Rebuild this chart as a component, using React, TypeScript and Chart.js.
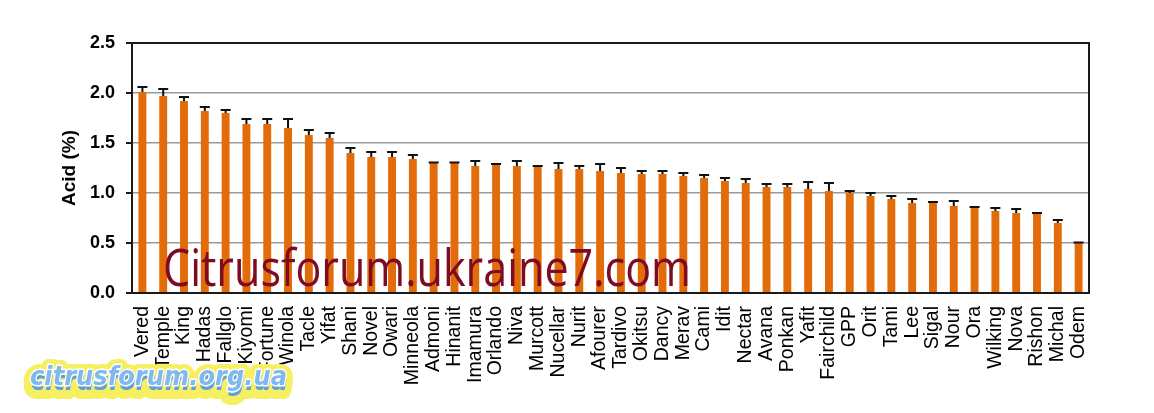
import React, { useEffect, useRef } from "react";
import { Chart, registerables } from "chart.js";

Chart.register(...registerables);

const cultivars = [
  "Vered", "Temple", "King", "Hadas", "Fallglo", "Kiyomi", "Fortune", "Winola", "Tacle", "Yifat",
  "Shani", "Novel", "Owari", "Minneola", "Admoni", "Hinanit", "Imamura", "Orlando", "Niva", "Murcott",
  "Nucellar", "Nurit", "Afourer", "Tardivo", "Okitsu", "Dancy", "Merav", "Cami", "Idit", "Nectar",
  "Avana", "Ponkan", "Yafit", "Fairchild", "GPP", "Orit", "Tami", "Lee", "Sigal", "Nour",
  "Ora", "Wilking", "Nova", "Rishon", "Michal", "Odem",
];

const acidValues = [
  2.01, 1.97, 1.92, 1.82, 1.8, 1.69, 1.69, 1.65, 1.58, 1.55,
  1.4, 1.36, 1.36, 1.34, 1.3, 1.3, 1.27, 1.28, 1.27, 1.26,
  1.24, 1.24, 1.22, 1.2, 1.19, 1.19, 1.17, 1.15, 1.12, 1.1,
  1.06, 1.06, 1.04, 1.02, 1.0, 0.97, 0.94, 0.9, 0.9, 0.87,
  0.85, 0.82, 0.8, 0.79, 0.7, 0.5,
];

const acidErrors = [
  0.05, 0.07, 0.04, 0.04, 0.03, 0.05, 0.05, 0.09, 0.05, 0.05,
  0.05, 0.05, 0.05, 0.04, 0.005, 0.005, 0.05, 0.01, 0.05, 0.01,
  0.06, 0.03, 0.07, 0.05, 0.03, 0.03, 0.03, 0.03, 0.03, 0.04,
  0.03, 0.03, 0.07, 0.08, 0.02, 0.03, 0.03, 0.04, 0.01, 0.05,
  0.01, 0.03, 0.04, 0.01, 0.03, 0.005,
];

const yTicks = [0, 0.5, 1.0, 1.5, 2.0, 2.5];
const yTitle = "Acid (%)";
const watermarkMain = "Citrusforum.ukraine7.com";
const watermarkBadge = "citrusforum.org.ua";

const FONT = "'Liberation Sans', Arial, sans-serif";

const errorBarPlugin = {
  id: "errorBars",
  afterDatasetsDraw(chart: any) {
    const ctx = chart.ctx;
    const meta = chart.getDatasetMeta(0);
    const y = chart.scales.y;
    ctx.save();
    ctx.strokeStyle = "#111";
    ctx.lineWidth = 2;
    meta.data.forEach((bar: any, i: number) => {
      const top = y.getPixelForValue(acidValues[i] + acidErrors[i]);
      ctx.beginPath();
      ctx.moveTo(bar.x, bar.y);
      ctx.lineTo(bar.x, top);
      ctx.moveTo(bar.x - 5, top);
      ctx.lineTo(bar.x + 5, top);
      ctx.stroke();
    });
    ctx.restore();
  },
};

const framePlugin = {
  id: "frame",
  afterDraw(chart: any) {
    const ctx = chart.ctx;
    const a = chart.chartArea;
    ctx.save();
    ctx.strokeStyle = "#1a1a1a";
    ctx.lineWidth = 2;
    ctx.strokeRect(a.left, a.top, a.right - a.left, a.bottom - a.top);
    const y = chart.scales.y;
    ctx.beginPath();
    yTicks.forEach((v) => {
      const py = y.getPixelForValue(v);
      ctx.moveTo(a.left - 6, py);
      ctx.lineTo(a.left, py);
    });
    ctx.stroke();

    // watermark 1
    ctx.font = `52px 'Open Sans', 'Noto Sans', sans-serif`;
    const w1 = ctx.measureText(watermarkMain).width;
    const targetW1 = 528;
    ctx.translate(163, 286);
    ctx.scale(targetW1 / w1, 1);
    ctx.fillStyle = "#7d0b22";
    ctx.textBaseline = "alphabetic";
    ctx.fillText(watermarkMain, 0, 0);
    ctx.restore();

    // watermark 2 (badge)
    ctx.save();
    ctx.font = `italic bold 27px 'DejaVu Sans', sans-serif`;
    const w2 = ctx.measureText(watermarkBadge).width;
    const targetW2 = 257;
    ctx.translate(30, 385);
    ctx.scale(targetW2 / w2, 1);
    ctx.lineJoin = "round";
    ctx.strokeStyle = "#f6ef62";
    ctx.lineWidth = 16;
    ctx.strokeText(watermarkBadge, 0, 2);
    ctx.strokeText(watermarkBadge, 0, 6);
    ctx.fillStyle = "#5f9fdc";
    ctx.fillText(watermarkBadge, 1, 5);
    ctx.strokeStyle = "#ffffff";
    ctx.lineWidth = 3;
    ctx.strokeText(watermarkBadge, 0, 0);
    ctx.fillStyle = "#7fb9ee";
    ctx.fillText(watermarkBadge, 0, 0);
    ctx.restore();
  },
};

export default function App() {
  const ref = useRef<HTMLCanvasElement | null>(null);

  useEffect(() => {
    if (!ref.current) return;
    const chart = new Chart(ref.current, {
      type: "bar",
      data: {
        labels: cultivars,
        datasets: [
          {
            data: acidValues,
            backgroundColor: "#e36c0a",
            borderWidth: 0,
            categoryPercentage: 1,
            barPercentage: 0.38,
          },
        ],
      },
      options: {
        animation: false,
        responsive: false,
        devicePixelRatio: 1,
        layout: { padding: { left: 56, right: 65, top: 43, bottom: 0 } },
        plugins: { legend: { display: false }, tooltip: { enabled: false } },
        scales: {
          x: {
            grid: { display: false, drawTicks: false },
            border: { display: false },
            ticks: {
              autoSkip: false,
              minRotation: 90,
              maxRotation: 90,
              padding: 13,
              color: "#000",
              font: { family: FONT, size: 19.5 },
            },
            afterFit(scale: any) {
              scale.height = 120;
            },
          },
          y: {
            min: 0,
            max: 2.5,
            afterBuildTicks(scale: any) {
              scale.ticks = yTicks.map((v) => ({ value: v }));
            },
            grid: { color: "#9a9a9a", lineWidth: 1.5, drawTicks: false },
            border: { display: false },
            ticks: {
              padding: 17,
              color: "#000",
              font: { family: FONT, size: 18, weight: "bold" },
              callback: (v: any) => Number(v).toFixed(1),
            },
            title: {
              display: true,
              text: yTitle,
              color: "#000",
              font: { family: FONT, size: 19, weight: "bold" },
              padding: { top: 2, bottom: 0 },
            },
            afterFit(scale: any) {
              scale.width = 76;
            },
          },
        },
      },
      plugins: [errorBarPlugin, framePlugin],
    });
    return () => chart.destroy();
  }, []);

  return (
    <div style={{ position: "fixed", left: 0, top: 0, width: 1154, height: 413, background: "#fff" }}>
      <canvas ref={ref} width={1154} height={413} style={{ display: "block" }} />
    </div>
  );
}
